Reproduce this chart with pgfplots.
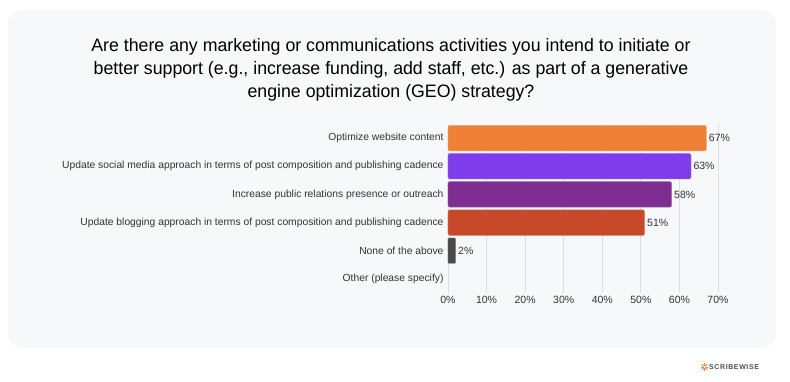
\documentclass[border=0pt]{standalone}
\usepackage{pgfplots}
\pgfplotsset{compat=1.18}
\usepackage{fontspec}
\setmainfont{Liberation Sans}
\definecolor{cardbg}{HTML}{F7F8FA}
\definecolor{cOrange}{HTML}{EF8036}
\definecolor{cViolet}{HTML}{7F3CEB}
\definecolor{cPurple}{HTML}{7E2D91}
\definecolor{cRed}{HTML}{C8482A}
\definecolor{cGray}{HTML}{4A4A4A}
\definecolor{txt}{HTML}{333333}
\begin{document}
\begin{tikzpicture}[x=1pt,y=1pt]
\path[fill=white] (0,0) rectangle (790,382);
\fill[cardbg, rounded corners=14pt] (8,34) rectangle (776,372);
\node[align=center, text=black, font=\fontsize{18}{23}\selectfont, xscale=0.985] at (391,312)
 {Are there any marketing or communications activities you intend to initiate or\\
  better support (e.g., increase funding, add staff, etc.) as part of a generative\\
  engine optimization (GEO) strategy?};
\begin{axis}[at={(448pt,89pt)}, anchor=south west, scale only axis,
  width=270pt, height=169pt,
  xmin=0, xmax=70, ymin=-0.5, ymax=5.5, y dir=reverse,
  xbar, bar width=25.5pt, bar shift=0pt,
  axis line style={draw=none}, major tick length=0pt,
  xmajorgrids, grid style={draw=black!13, line width=0.8pt},
  xtick={0,10,...,70}, ytick={0,...,5},
  /pgf/number format/assume math mode=true,
  xticklabel={\pgfmathprintnumber{\tick}\%},
  xticklabel style={font=\fontsize{10.5}{12}\selectfont, text=txt},
  yticklabels={Optimize website content,
    Update social media approach in terms of post composition and publishing cadence,
    Increase public relations presence or outreach,
    Update blogging approach in terms of post composition and publishing cadence,
    None of the above, Other (please specify)},
  yticklabel style={font=\fontsize{10.3}{12}\selectfont, text=txt, xshift=-1pt},
  nodes near coords={\pgfmathprintnumber{\pgfplotspointmeta}\%},
  nodes near coords style={font=\fontsize{10.5}{12}\selectfont, text=txt, anchor=west, xshift=-1pt},
  point meta=explicit symbolic,
  clip=false,
]
\addplot[fill=cOrange, draw=cOrange!70!white, rounded corners=1.5pt] coordinates {(67,0) [67]};
\addplot[fill=cViolet, draw=cViolet!70!white, rounded corners=1.5pt] coordinates {(63,1) [63]};
\addplot[fill=cPurple, draw=cPurple!70!white, rounded corners=1.5pt] coordinates {(58,2) [58]};
\addplot[fill=cRed, draw=cRed!70!white, rounded corners=1.5pt] coordinates {(51,3) [51]};
\addplot[fill=cGray, draw=cGray!70!white, rounded corners=1pt] coordinates {(2,4) [2]};
\end{axis}
% logo
\begin{scope}[shift={(704.5,15)}, cOrange, line width=0.9pt]
\foreach \a in {0,45,...,315} \draw (\a:1.0) -- (\a:3.8);
\end{scope}
\node[anchor=west, font=\fontsize{7}{9}\bfseries, text=black!70, inner sep=0] at (709,15) {S\kern.6pt C\kern.6pt R\kern.6pt I\kern.6pt B\kern.6pt E\kern.6pt W\kern.6pt I\kern.6pt S\kern.6pt E};
\end{tikzpicture}
\end{document}
